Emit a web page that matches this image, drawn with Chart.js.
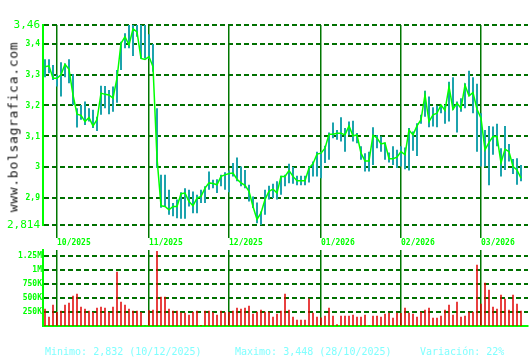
<!DOCTYPE html>
<html>
<head>
<meta charset="utf-8">
<script src="https://cdn.jsdelivr.net/npm/chart.js@4.4.1/dist/chart.umd.min.js"></script>
<style>
  body { margin: 0; background: #fff; width: 530px; height: 360px; overflow: hidden; position: relative; font-family: 'DejaVu Sans Mono', monospace; }
  canvas { position: absolute; left: 0; }
  #priceChart { top: 0; }
  #volChart { top: 240px; }
  #brand { position: absolute; left: 13px; top: 127px; transform: translate(-50%, -50%) rotate(-90deg); font-size: 13px; letter-spacing: 0.7px; color: #111; white-space: nowrap; }
  .foot { position: absolute; top: 346px; font-size: 10px; line-height: 12px; color: #80ffff; white-space: pre; }
</style>
</head>
<body>
<canvas id="priceChart" width="530" height="250"></canvas>
<canvas id="volChart" width="530" height="100"></canvas>
<div id="brand">www.bolsagrafica.com</div>
<div class="foot" style="left:45px">Minimo: 2,832 (10/12/2025)</div>
<div class="foot" style="left:235px">Maximo: 3,448 (28/10/2025)</div>
<div class="foot" style="left:420px">Variación: 22%</div>
<script>
// one entry per session, 25/09/2025 .. 13/03/2026
const closes = [
  3.325, 3.328, 3.288, 3.288, 3.299, 3.333, 3.317, 3.234, 3.172, 3.168,
  3.148, 3.161, 3.134, 3.154, 3.240, 3.236, 3.234, 3.224, 3.288, 3.401,
  3.422, 3.395, 3.448, 3.438, 3.352, 3.349, 3.358, 3.325, 3.030, 2.876,
  2.874, 2.863, 2.874, 2.874, 2.915, 2.917, 2.890, 2.876, 2.901, 2.906,
  2.933, 2.950, 2.948, 2.944, 2.971, 2.976, 2.980, 2.982, 2.962, 2.950,
  2.942, 2.923, 2.874, 2.832, 2.853, 2.896, 2.923, 2.930, 2.917, 2.971,
  2.971, 2.990, 2.971, 2.957, 2.957, 2.957, 2.998, 3.012, 3.043, 3.046,
  3.062, 3.107, 3.107, 3.110, 3.110, 3.105, 3.134, 3.102, 3.105, 3.046,
  3.021, 3.021, 3.104, 3.095, 3.076, 3.079, 3.028, 3.028, 3.033, 3.051,
  3.041, 3.121, 3.105, 3.134, 3.154, 3.234, 3.148, 3.170, 3.175, 3.202,
  3.184, 3.261, 3.188, 3.207, 3.191, 3.266, 3.231, 3.242, 3.188, 3.159,
  3.057, 3.081, 3.100, 3.100, 3.014, 3.059, 3.051, 3.003, 2.992, 2.965
];
const highs = [
  3.349, 3.349, 3.331, 3.299, 3.340, 3.336, 3.349, 3.302, 3.191, 3.202,
  3.213, 3.191, 3.186, 3.164, 3.264, 3.263, 3.250, 3.261, 3.315, 3.406,
  3.433, 3.460, 3.460, 3.460, 3.460, 3.460, 3.430, 3.399, 3.191, 2.976,
  2.976, 2.928, 2.885, 2.896, 2.920, 2.933, 2.928, 2.922, 2.912, 2.928,
  2.939, 2.987, 2.960, 2.962, 2.976, 2.984, 2.990, 3.014, 3.032, 3.003,
  2.992, 2.944, 2.906, 2.887, 2.858, 2.928, 2.941, 2.947, 2.955, 2.973,
  2.976, 3.012, 3.001, 2.973, 2.973, 2.973, 3.003, 3.019, 3.051, 3.051,
  3.070, 3.113, 3.145, 3.121, 3.162, 3.127, 3.148, 3.151, 3.111, 3.068,
  3.046, 3.051, 3.130, 3.105, 3.100, 3.080, 3.048, 3.068, 3.057, 3.068,
  3.064, 3.127, 3.116, 3.143, 3.170, 3.248, 3.229, 3.194, 3.199, 3.202,
  3.202, 3.277, 3.291, 3.213, 3.223, 3.272, 3.312, 3.291, 3.270, 3.175,
  3.121, 3.134, 3.132, 3.141, 3.062, 3.134, 3.076, 3.027, 3.030, 3.008
];
const lows = [
  3.291, 3.304, 3.282, 3.261, 3.229, 3.291, 3.272, 3.202, 3.129, 3.154,
  3.137, 3.148, 3.127, 3.118, 3.170, 3.191, 3.172, 3.180, 3.209, 3.315,
  3.385, 3.385, 3.360, 3.422, 3.352, 3.352, 3.350, 3.309, 2.998, 2.870,
  2.874, 2.847, 2.842, 2.836, 2.834, 2.834, 2.874, 2.852, 2.852, 2.885,
  2.885, 2.928, 2.933, 2.917, 2.939, 2.928, 2.920, 2.971, 2.955, 2.939,
  2.933, 2.890, 2.869, 2.820, 2.815, 2.847, 2.896, 2.901, 2.896, 2.912,
  2.939, 2.949, 2.947, 2.942, 2.942, 2.942, 2.951, 2.971, 2.971, 2.965,
  3.014, 3.025, 3.094, 3.089, 3.084, 3.051, 3.105, 3.084, 3.078, 3.025,
  2.987, 2.987, 3.008, 3.062, 3.051, 3.025, 3.016, 3.008, 2.998, 3.003,
  2.994, 2.990, 3.054, 3.037, 3.141, 3.164, 3.130, 3.132, 3.130, 3.175,
  3.141, 3.148, 3.186, 3.113, 3.180, 3.191, 3.234, 3.175, 3.051, 3.003,
  3.003, 2.942, 3.041, 3.068, 2.971, 2.992, 3.019, 2.979, 2.944, 2.955
];
const volumes = [
  309000, 166000, 380000, 250000, 273000, 380000, 416000, 541000, 577000, 345000,
  309000, 273000, 250000, 327000, 345000, 327000, 250000, 345000, 970000, 434000,
  380000, 309000, 273000, 273000, 250000, 10000, 280000, 291000, 1340000, 523000,
  523000, 309000, 273000, 273000, 243000, 237000, 202000, 255000, 273000, 20000,
  273000, 273000, 245000, 202000, 273000, 245000, 250000, 273000, 327000, 309000,
  327000, 363000, 220000, 255000, 291000, 255000, 255000, 166000, 220000, 273000,
  577000, 291000, 166000, 113000, 113000, 113000, 493000, 237000, 166000, 150000,
  184000, 327000, 184000, 30000, 184000, 184000, 184000, 202000, 166000, 166000,
  202000, 15000, 184000, 184000, 166000, 220000, 237000, 148000, 237000, 230000,
  327000, 237000, 220000, 166000, 255000, 291000, 327000, 148000, 148000, 184000,
  291000, 380000, 202000, 434000, 166000, 184000, 255000, 255000, 1095000, 398000,
  773000, 648000, 345000, 309000, 559000, 488000, 291000, 559000, 398000, 273000
];
const monthIdx = [3, 26, 46, 69, 89, 109];
const monthLabels = ['10/2025', '11/2025', '12/2025', '01/2026', '02/2026', '03/2026'];
const priceTicks = [2.814, 2.9, 3, 3.1, 3.2, 3.3, 3.4, 3.46];
const volTicks = [250000, 500000, 750000, 1000000, 1250000];
const volLabels = ['250K', '500K', '750K', '1M', '1.25M'];

const mono = 'DejaVu Sans Mono';
const gridGreen = '#007000';
const monthGreen = '#007700';
const axisGreen = '#00ff00';

function monthAxis(showLabels) {
    return {
        type: 'linear',
        min: -0.5,
        max: 120.75,
        offset: false,
        afterBuildTicks: s => { s.ticks = monthIdx.map(v => ({ value: v })); },
        afterFit: s => { s.height = showLabels ? 25 : 0; },
        ticks: {
            display: showLabels,
            autoSkip: false,
            maxRotation: 0,
            align: 'start',
            padding: 0,
            color: axisGreen,
            font: { family: mono, size: 8, weight: 'bold' },
            callback: v => monthLabels[monthIdx.indexOf(v)]
        },
        grid: { offset: false, color: monthGreen, lineWidth: 1.5, drawTicks: showLabels, tickLength: 13 },
        border: { display: !showLabels, color: axisGreen, width: 2 }
    };
}

new Chart(document.getElementById('priceChart'), {
    type: 'line',
    data: {
        datasets: [
            {
                type: 'line',
                data: closes.map((c, i) => ({ x: i, y: c })),
                borderColor: '#00ff00',
                borderWidth: 1.5,
                pointRadius: 0,
                tension: 0,
                order: 0
            },
            {
                type: 'bar',
                data: highs.map((h, i) => ({ x: i, y: [lows[i], h] })),
                backgroundColor: '#1ca3ad',
                barThickness: 2,
                inflateAmount: 0,
                order: 1
            }
        ]
    },
    options: {
        responsive: false,
        animation: false,
        devicePixelRatio: 1,
        layout: { padding: { top: 25, right: 2, left: 0, bottom: 0 } },
        plugins: { legend: { display: false }, tooltip: { enabled: false } },
        scales: {
            x: monthAxis(true),
            y: {
                type: 'linear',
                min: 2.814,
                max: 3.46,
                afterBuildTicks: s => { s.ticks = priceTicks.map(v => ({ value: v })); },
                afterFit: s => { s.width = 43; },
                ticks: {
                    color: axisGreen,
                    padding: 3,
                    font: ctx => {
                        const v = ctx.tick ? ctx.tick.value : 0;
                        const big = v === 3.46 || v === 2.814;
                        return { family: mono, size: big ? 11 : 8, weight: big ? 'normal' : 'bold' };
                    },
                    callback: v => String(v).replace('.', ',')
                },
                grid: { color: gridGreen, lineWidth: 2, drawTicks: false },
                border: { color: axisGreen, width: 2, dash: [5, 3] }
            }
        }
    }
});

new Chart(document.getElementById('volChart'), {
    type: 'bar',
    data: {
        datasets: [{
            data: volumes.map((v, i) => ({ x: i, y: v })),
            backgroundColor: '#e00000',
            barThickness: 1.5,
            inflateAmount: 0
        }]
    },
    options: {
        responsive: false,
        animation: false,
        devicePixelRatio: 1,
        layout: { padding: { top: 10, right: 2, left: 0, bottom: 14 } },
        plugins: { legend: { display: false }, tooltip: { enabled: false } },
        scales: {
            x: monthAxis(false),
            y: {
                type: 'linear',
                min: 0,
                max: 1357000,
                afterBuildTicks: s => { s.ticks = volTicks.map(v => ({ value: v })); },
                afterFit: s => { s.width = 43; },
                ticks: {
                    color: axisGreen,
                    padding: 1,
                    font: { family: mono, size: 8, weight: 'bold' },
                    callback: v => volLabels[volTicks.indexOf(v)]
                },
                grid: { color: gridGreen, lineWidth: 2, drawTicks: false },
                border: { color: axisGreen, width: 2, dash: [5, 3] }
            }
        }
    }
});
</script>
</body>
</html>
